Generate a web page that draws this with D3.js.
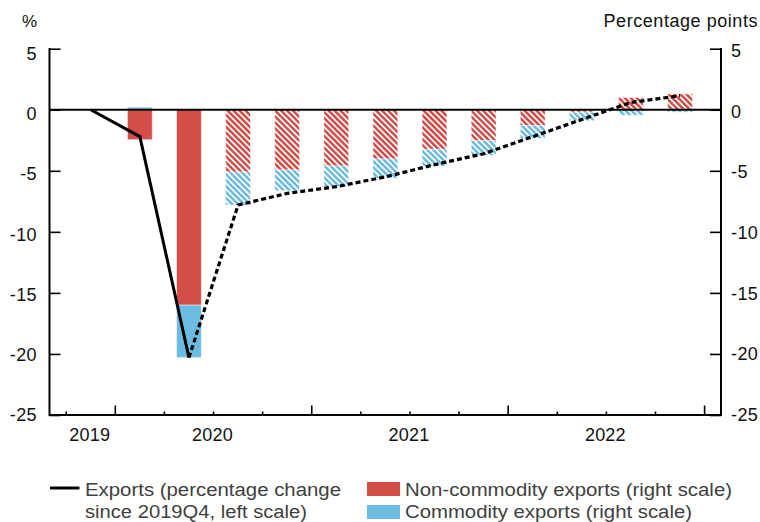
<!DOCTYPE html>
<html>
<head>
<meta charset="utf-8">
<script src="https://cdn.jsdelivr.net/npm/d3@7"></script>
<style>
  html, body { margin: 0; padding: 0; background: #fff; }
  svg { display: block; }
  text { font-family: "Liberation Sans", Arial, Helvetica, sans-serif; }
</style>
</head>
<body>
<svg id="chart" width="760" height="522"></svg>
<script>
// ---------------- data ----------------
const quarters = ["2019Q4","2020Q1","2020Q2","2020Q3","2020Q4","2021Q1","2021Q2","2021Q3","2021Q4","2022Q1","2022Q2","2022Q3","2022Q4"];
const exportsChange = [0, -2.2, -20.3, -7.8, -6.85, -6.3, -5.5, -4.5, -3.6, -2.2, -0.8, 0.6, 1.15];
const solidUntil = "2020Q2"; // exports line is solid up to this quarter, dashed after

const barQuarters = ["2020Q1","2020Q2","2020Q3","2020Q4","2021Q1","2021Q2","2021Q3","2021Q4","2022Q1","2022Q2","2022Q3","2022Q4"];
const nonCommodity = [-2.45, -16.0, -5.1, -4.93, -4.6, -4.03, -3.24, -2.53, -1.3, -0.2, 1.0, 1.3];
const commodity    = [0.2, -4.3, -2.7, -1.7, -1.7, -1.57, -1.37, -1.2, -1.05, -0.7, -0.45, -0.2];
const estimated    = [false, false, true, true, true, true, true, true, true, true, true, true];

const yTicks = [5, 0, -5, -10, -15, -20, -25];
const yearLabels = ["2019", "2020", "2021", "2022"];
const yearCentres = [0, 2.5, 6.5, 10.5];         // in quarter index units
const yearBoundaries = [0.5, 4.5, 8.5, 12.5];

const leftTitle = "%";
const rightTitle = "Percentage points";
const legendItems = [
  { key: "exports", lines: ["Exports (percentage change", "since 2019Q4, left scale)"] },
  { key: "nonCommodity", lines: ["Non-commodity exports (right scale)"] },
  { key: "commodity", lines: ["Commodity exports (right scale)"] }
];

// ---------------- layout ----------------
const RED = "#d34e48", BLUE = "#6cbbe0";
const L = 49.5, R = 721, T = 48.7, B = 415;

const svg = d3.select("#chart");

const x = d3.scaleLinear().domain([-0.84, 12.834]).range([L, R]);
const step = x(1) - x(0);
const y = d3.scaleLinear().domain([-25, 5]).range([B, T]);
// label placement on the left axis sits slightly below the ticks near the top (as in the original)
const yLabelLeft = d3.scaleLinear().domain([-25, 5]).range([B - 0.5, T + 5]);
const yLabelRight = d3.scaleLinear().domain([-25, 5]).range([B - 0.5, T + 2]);

// patterns
const defs = svg.append("defs");
function hatch(id, color) {
  const p = defs.append("pattern")
    .attr("id", id).attr("patternUnits", "userSpaceOnUse")
    .attr("width", 4.2).attr("height", 4.2)
    .attr("patternTransform", "rotate(45)");
  p.append("rect").attr("width", 4.2).attr("height", 4.2).attr("fill", "#fff");
  p.append("rect").attr("width", 4.2).attr("height", 2.5).attr("fill", color);
}
hatch("hatchRed", RED);
hatch("hatchBlue", BLUE);

// ---------------- bars ----------------
const barRows = barQuarters.map((q, i) => ({
  q, idx: quarters.indexOf(q), nonCommodity: nonCommodity[i], commodity: commodity[i], est: estimated[i]
}));
const stack = d3.stack().keys(["nonCommodity", "commodity"]).offset(d3.stackOffsetDiverging);
const series = stack(barRows);
const colorOf = { nonCommodity: RED, commodity: BLUE };
const hatchOf = { nonCommodity: "url(#hatchRed)", commodity: "url(#hatchBlue)" };
const bw = step * 0.505;

const gBars = svg.append("g");
series.forEach(s => {
  gBars.selectAll(null).data(s).enter().append("rect")
    .attr("x", d => x(d.data.idx) - bw / 2)
    .attr("width", bw)
    .attr("y", d => y(Math.max(d[0], d[1])))
    .attr("height", d => Math.abs(y(d[0]) - y(d[1])))
    .attr("fill", d => d.data.est ? hatchOf[s.key] : colorOf[s.key])
    .attr("stroke", "#fff").attr("stroke-opacity", 0.45).attr("stroke-width", 1);
});

// ---------------- axes ----------------
const axisColor = "#000";
const tickFont = 18;
// left axis
const gLeft = svg.append("g").attr("transform", `translate(${L},0)`)
  .call(d3.axisRight(y).tickValues(yTicks).tickSize(11).tickFormat(""));
gLeft.select(".domain").remove();
gLeft.selectAll(".tick line").attr("stroke", axisColor).attr("stroke-width", 1.6);
svg.append("line").attr("x1", L).attr("x2", L).attr("y1", T - 0.8).attr("y2", B + 1)
  .attr("stroke", axisColor).attr("stroke-width", 2);
svg.append("g").selectAll("text").data(yTicks).enter().append("text")
  .attr("x", 37).attr("y", d => yLabelLeft(d)).attr("dy", "0.36em")
  .attr("text-anchor", "end").attr("font-size", tickFont).attr("letter-spacing", 0.4)
  .attr("fill", "#111").text(d => d);

// right axis
const gRight = svg.append("g").attr("transform", `translate(${R},0)`)
  .call(d3.axisLeft(y).tickValues(yTicks).tickSize(11).tickFormat(""));
gRight.select(".domain").remove();
gRight.selectAll(".tick line").attr("stroke", axisColor).attr("stroke-width", 1.6);
svg.append("line").attr("x1", R).attr("x2", R).attr("y1", T - 0.8).attr("y2", B + 1)
  .attr("stroke", axisColor).attr("stroke-width", 2);
svg.append("g").selectAll("text").data(yTicks).enter().append("text")
  .attr("x", 731).attr("y", d => yLabelRight(d)).attr("dy", "0.36em")
  .attr("text-anchor", "start").attr("font-size", tickFont).attr("letter-spacing", 0.4)
  .attr("fill", "#111").text(d => d);

// titles
svg.append("text").attr("x", 22).attr("y", 27).attr("font-size", 17).attr("fill", "#111").text(leftTitle);
svg.append("text").attr("x", 758).attr("y", 27).attr("font-size", 18).attr("letter-spacing", 0.55)
  .attr("text-anchor", "end").attr("fill", "#111").text(rightTitle);

// bottom axis
const quarterBounds = d3.range(-0.5, 12.51, 1);
const gBottom = svg.append("g").attr("transform", `translate(0,${B})`);
gBottom.append("line").attr("x1", L).attr("x2", R).attr("stroke", axisColor).attr("stroke-width", 2);
gBottom.selectAll(".qt").data(quarterBounds).enter().append("line")
  .attr("x1", d => x(d)).attr("x2", d => x(d))
  .attr("y1", 0).attr("y2", d => yearBoundaries.includes(d) ? -9.5 : -3.5)
  .attr("stroke", axisColor).attr("stroke-width", 1.6);
gBottom.selectAll("text").data(yearLabels).enter().append("text")
  .attr("x", (d, i) => x(yearCentres[i]) - 1).attr("y", 26)
  .attr("text-anchor", "middle").attr("font-size", tickFont).attr("letter-spacing", 0.2)
  .attr("fill", "#111").text(d => d);

// zero line
svg.append("line").attr("x1", L).attr("x2", R).attr("y1", y(0)).attr("y2", y(0))
  .attr("stroke", "#000").attr("stroke-width", 2);

// ---------------- exports line ----------------
const pts = quarters.map((q, i) => ({ i, v: exportsChange[i] }));
const cut = quarters.indexOf(solidUntil);
const line = d3.line().x(d => x(d.i)).y(d => y(d.v));
svg.append("path").datum(pts.slice(0, cut + 1)).attr("d", line)
  .attr("fill", "none").attr("stroke", "#000").attr("stroke-width", 3).attr("stroke-linejoin", "miter");
svg.append("path").datum(pts.slice(cut)).attr("d", line)
  .attr("fill", "none").attr("stroke", "#000").attr("stroke-width", 3.2)
  .attr("stroke-dasharray", "5,3");

// ---------------- legend ----------------
const lg = svg.append("g");
const legendFont = 18, legendColor = "#404040";
lg.append("line").attr("x1", 50).attr("x2", 79.5).attr("y1", 488).attr("y2", 488)
  .attr("stroke", "#000").attr("stroke-width", 3);
const lens = [[256, 222], [327], [287]];
const lx = [85, 405, 405], ly = [495.5, 495.5, 517.5];
legendItems.forEach((it, k) => {
  it.lines.forEach((t, j) => {
    lg.append("text").attr("x", lx[k]).attr("y", ly[k] + j * 22)
      .attr("font-size", legendFont).attr("fill", legendColor)
      .attr("textLength", lens[k][j]).attr("lengthAdjust", "spacingAndGlyphs")
      .text(t);
  });
});
lg.append("rect").attr("x", 367).attr("y", 482).attr("width", 33).attr("height", 14).attr("fill", RED);
lg.append("rect").attr("x", 367).attr("y", 505).attr("width", 33).attr("height", 14).attr("fill", BLUE);
</script>
</body>
</html>
